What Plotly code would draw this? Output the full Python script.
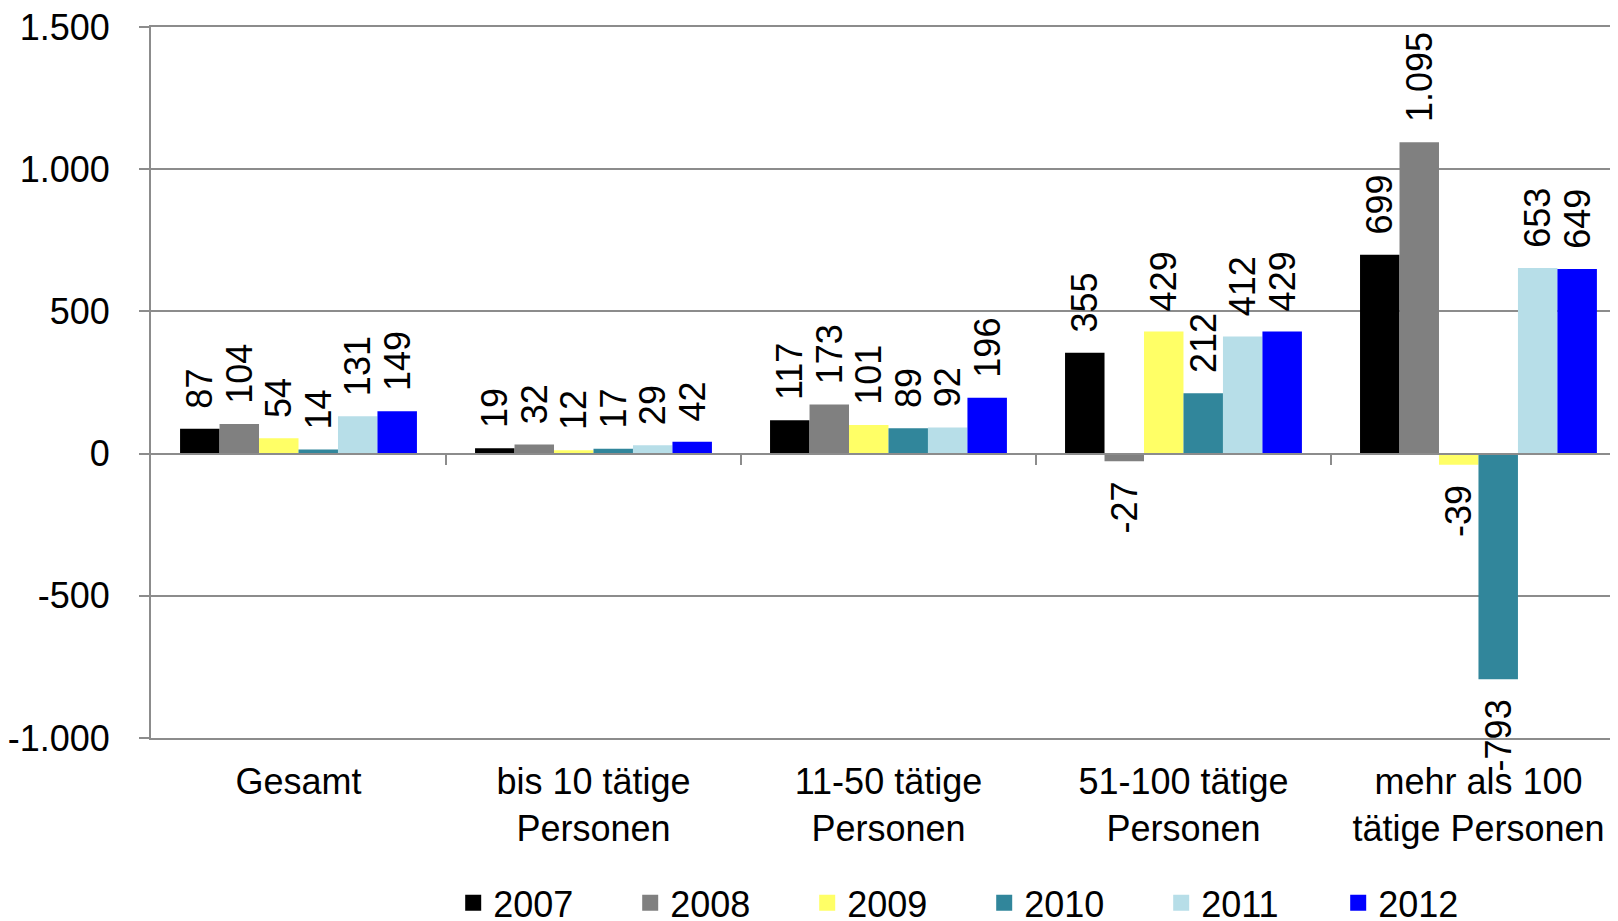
import plotly.graph_objects as go

categories = [
    "Gesamt",
    "bis 10 tätige<br>Personen",
    "11-50 tätige<br>Personen",
    "51-100 tätige<br>Personen",
    "mehr als 100<br>tätige Personen",
]
years = ["2007", "2008", "2009", "2010", "2011", "2012"]
values_2007 = [87, 19, 117, 355, 699]
values_2008 = [104, 32, 173, -27, 1095]
values_2009 = [54, 12, 101, 429, -39]
values_2010 = [14, 17, 89, 212, -793]
values_2011 = [131, 29, 92, 412, 653]
values_2012 = [149, 42, 196, 429, 649]
year_colors = ["#000000", "#808080", "#FFFF66", "#31869B", "#B7DEE8", "#0000FF"]
y_ticks = [-1000, -500, 0, 500, 1000, 1500]
y_ticktext = ["-1.000", "-500", "0", "500", "1.000", "1.500"]

series = [values_2007, values_2008, values_2009, values_2010, values_2011, values_2012]
FONT = "Liberation Sans, Arial, sans-serif"
GRID = "#8c8c8c"
X_RANGE = [-0.5, 4.473]
PAD = "\u00a0\u2009"  # keeps the rotated labels a bit off the bar ends


def de_number(v):
    s = f"{v:,}".replace(",", ".")
    return PAD + s if v >= 0 else s + PAD


fig = go.Figure()
for year, vals, color in zip(years, series, year_colors):
    fig.add_trace(
        go.Bar(
            x=list(range(len(categories))),
            y=vals,
            name=year,
            marker={"color": color, "line": {"width": 0}},
            text=[de_number(v) for v in vals],
            textposition="outside",
            textangle=-90,
            textfont={"size": 36, "color": "black", "family": FONT},
            constraintext="none",
            cliponaxis=False,
            showlegend=False,
        )
    )

# legend entries with bigger square swatches than the bar default
for year, color in zip(years, year_colors):
    fig.add_trace(
        go.Scatter(
            x=[None],
            y=[None],
            mode="markers",
            name=year,
            marker={"symbol": "square", "size": 18, "color": color},
            hoverinfo="skip",
        )
    )

# zero line with the category boundary ticks
fig.add_trace(go.Scatter(x=[None], y=[None], xaxis="x2", showlegend=False, hoverinfo="skip"))

# the page body has an 8px margin, so the figure is 16px smaller than the window
fig.update_layout(
    width=1610,
    height=913,
    margin={"l": 143, "r": 0, "t": 19, "b": 183, "autoexpand": False},
    paper_bgcolor="white",
    plot_bgcolor="white",
    font={"family": FONT, "size": 36, "color": "black"},
    barmode="group",
    bargap=0.197,
    bargroupgap=0,
    showlegend=True,
    legend={
        "orientation": "h",
        "x": 0.206,
        "xanchor": "left",
        "y": -0.232,
        "yanchor": "middle",
        "entrywidth": 132,
        "font": {"size": 36},
        "itemclick": False,
    },
    xaxis={
        "range": X_RANGE,
        "tickmode": "array",
        "tickvals": list(range(len(categories))),
        "ticktext": categories,
        "showgrid": False,
        "zeroline": False,
        "showline": True,
        "mirror": True,
        "linecolor": GRID,
        "linewidth": 2,
        "ticks": "",
        "ticklabelstandoff": 11,
        "tickfont": {"size": 36},
    },
    xaxis2={
        "overlaying": "x",
        "anchor": "free",
        "position": 0.4,
        "range": X_RANGE,
        "tickmode": "array",
        "tickvals": [0.5, 1.5, 2.5, 3.5],
        "ticks": "outside",
        "ticklen": 10,
        "tickwidth": 2,
        "tickcolor": GRID,
        "showticklabels": False,
        "showgrid": False,
        "zeroline": False,
        "showline": True,
        "linecolor": GRID,
        "linewidth": 2,
    },
    yaxis={
        "range": [-1000, 1500],
        "tickmode": "array",
        "tickvals": y_ticks,
        "ticktext": y_ticktext,
        "ticklabeloverflow": "allow",
        "showgrid": True,
        "gridcolor": GRID,
        "gridwidth": 2,
        "zeroline": False,
        "showline": True,
        "linecolor": GRID,
        "linewidth": 2,
        "ticks": "outside",
        "ticklen": 10,
        "tickwidth": 2,
        "tickcolor": GRID,
        "ticklabelstandoff": 22,
        "tickfont": {"size": 36},
    },
)

fig.write_html("out.html")
